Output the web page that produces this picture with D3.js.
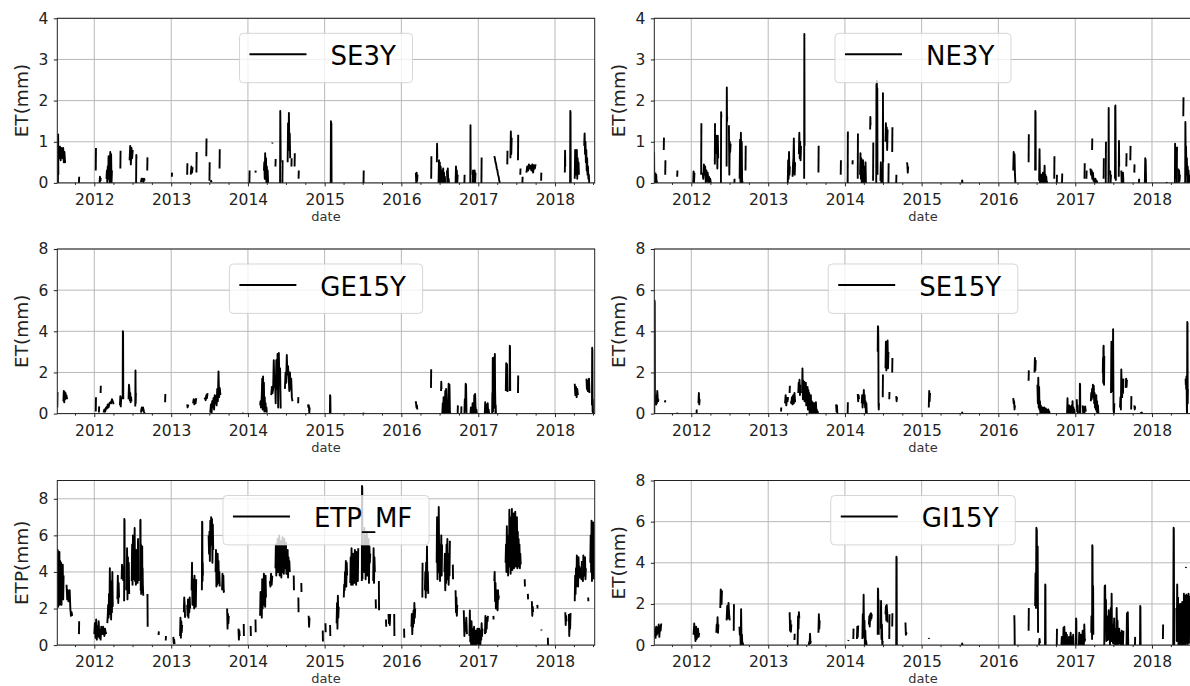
<!DOCTYPE html>
<html><head><meta charset="utf-8">
<script src="https://cdn.jsdelivr.net/npm/d3@7"></script>
<style>body{margin:0;background:#fff} svg{display:block} text{font-family:"DejaVu Sans",sans-serif}</style>
</head><body><svg id="c" width="1190" height="686"></svg>
<script>
// ---------- data: [startDate, stepDays, daily values (mm)] ----------
const SE3Y = [
["2011-07-12",1,[0,1.18,0.2]],["2011-07-16",3,[0.9,0.6,0.88,0.55,0.85,0.7,0.6,0.85,0.5,0.75,0.48]],
["2011-10-20",1,[0,0.15]],["2012-01-08",1,[0.3,0.85]],["2012-01-26",2,[0,0.15,0.05,0.12]],
["2012-02-28",2,[0.1,0.3,0,0.4,0.15,0.65,0.1,0.5,0,0.75,0.2,0.7,0,0.3]],["2012-05-04",1,[0.35,0.78]],
["2012-06-17",3,[0.55,0.9,0.45,0.85,0.6,0.8]],["2012-07-18",1,[0,0.68,0.6]],
["2012-08-10",3,[0.02,0.1,0.05,0.1,0.02,0.1,0.05]],["2012-09-09",1,[0.3,0.62]],
["2013-01-04",1,[0.15,0.25]],["2013-03-18",1,[0.2,0.48]],["2013-04-04",3,[0.2,0.4,0.25,0.38]],
["2013-05-01",1,[0.25,0.75]],["2013-06-17",1,[0.65,1.08]],["2013-07-02",1,[0.05,0.5]],
["2013-07-08",2,[0.02,0.05,0.02]],["2013-08-19",1,[0.35,0.82]],["2014-01-08",1,[0,0.3]],
["2014-02-06",1,[0.25,0.3]],["2014-03-18",2,[0.3,0.5,0.1,0.72,0.2,0.6,0,0.4,0.1,0.3,0]],
["2014-04-27",1,[0.96,0.98]],["2014-05-12",1,[0.4,0.58]],["2014-06-03",1,[0,1.75,1.2,0.5]],
["2014-06-14",1,[0,0.55]],["2014-07-09",2,[0.5,1.45,0.8,1.7,0.9,1.2,0.6]],["2014-07-27",1,[0.4,0.6]],
["2014-08-11",1,[0.4,0.72]],["2014-08-30",1,[0.1,0.3]],["2015-01-30",1,[0,1.5,0.05,1.45,0]],
["2015-07-05",1,[0,0.3]],["2016-03-10",2,[0.25,0,0.25,0.05,0.2]],["2016-05-22",1,[0.1,0.65]],
["2016-06-18",1,[0.5,0.95,0.6]],["2016-06-26",2,[0,0.55,0.1,0.5,0,0.4,0.05,0.3,0,0.2,0.05,0.35,0,0.25,0,0.15,0]],
["2016-08-05",2,[0.3,0,0.35,0.05,0.1,0]],["2016-09-15",2,[0,0.4,0.1,0.3,0,0.2]],["2016-10-27",1,[0,0.2]],
["2016-11-24",1,[0,1.4,0.2]],["2016-12-05",2,[0,0.3,0,0.2,0.05,0.3,0,0.25]],["2017-01-16",1,[0,0.62]],
["2017-03-18",3,[0.65,0.6,0.5,0.45,0.35,0.3,0.2,0.15,0.05,0]],["2017-05-19",1,[0.45,0.78]],
["2017-06-03",2,[0.6,1.25,0.7,1.1]],["2017-07-09",1,[0.55,1.17]],["2017-07-20",1,[0.2,0.35]],
["2017-07-30",1,[0,0.15]],["2017-08-18",4,[0.25,0.4,0.3,0.45,0.35,0.42,0.3,0.45,0.25,0.43,0.35,0.45]],
["2017-10-27",1,[0.05,0.25]],["2018-02-17",1,[0.25,0.78,0.4]],["2018-03-14",1,[0,1.75,1.7,0]],
["2018-04-05",2,[0.1,0.8,0.2,0.75,0.3,0.8,0.1,0.6,0.3,0.5,0.2]],
["2018-05-20",2,[0.9,1.2,0.7,1.0,0.5,0.8,0.3,0.6,0.2,0.4,0.1,0.2,0]]
];
const NE3Y = [
["2011-07-08",1,[0.75,0,0.2]],["2011-07-14",2,[0.25,0,0.2,0,0.05]],["2011-08-23",1,[0.8,1.1]],
["2011-08-30",1,[0.2,0.55]],["2011-10-26",1,[0.15,0.3]],["2012-01-10",2,[0,0.28,0,0.25]],
["2012-02-17",1,[0.2,1.45]],["2012-02-24",3,[0.25,0.1,0.45,0.2,0.4,0,0.3,0.05,0.25,0,0.15,0,0.1,0]],
["2012-04-22",1,[0.45,1.45]],["2012-04-26",2,[0.7,1.15,0.8,1.1,0.35,1.15,0.6]],["2012-05-21",1,[0,1.72,1.6]],
["2012-06-17",1,[0.4,2.32,1.5,1.6]],["2012-06-28",2,[1.4,0.2,1.0,0.75,0.95]],["2012-07-24",1,[0,0.1]],
["2012-08-18",2,[0.1,1.05,0,1.22,0.3,1.0,0,0.05]],["2012-09-15",1,[0.3,0.9]],
["2013-04-04",2,[0,0.55,0.1,0.75,0.2,0.4]],["2013-04-27",2,[0.15,0.45,0.6,1.08,0.4,0.2,0.5]],
["2013-05-27",2,[0.7,1.22,0.6,1.0,0.55,0.9]],["2013-06-21",1,[0.1,3.62,0.9]],["2013-08-28",1,[0.25,0.9]],
["2013-12-12",1,[0.2,0.55]],["2014-01-14",1,[0,1.25]],["2014-02-06",1,[0.45,0.55]],["2014-03-03",1,[0.1,1.2]],
["2014-03-14",2,[0.2,0.72,0.1,0.6,0,0.5,0.2,0.55,0,0.4,0,0.2,0.05,0.5,0]],["2014-05-01",1,[1.3,1.6,1.4]],
["2014-05-15",1,[0.05,0.98]],["2014-05-30",1,[0,2.4,0.8,2.48,1.1,2.3,0.2]],["2014-06-19",2,[0.05,0.5,0,0.3]],
["2014-06-30",1,[0,2.18,0.5]],["2014-07-13",2,[1.0,1.45,1.2,1.35,0.8,1.3]],["2014-07-27",1,[0,0.48]],
["2014-08-14",1,[0.75,1.35]],["2014-09-02",1,[0,0.2]],["2014-10-23",2,[0.5,0.45,0.25,0.4]],
["2015-07-12",1,[0,0.06,0]],["2016-03-12",2,[0.3,0.75,0.5,0.7,0.2,0]],["2016-05-24",1,[0.5,1.18]],
["2016-06-24",1,[0.3,1.75,1.7,0.3]],
["2016-07-13",2,[0.05,0.82,0,0.1,0.05,0.2,0,0.15,0.05,0.25,0,0.1,0.05,0.42,0,0.2,0.05,0.15,0,0.05]],
["2016-09-23",1,[0.1,0.65]],["2016-10-05",1,[0,0.2]],["2016-10-30",1,[0,0.23]],["2017-02-14",1,[0.1,0.48]],
["2017-02-23",1,[0.1,0.3]],["2017-03-14",3,[0.35,0.2,0.3,0.1,0.25,0.05,0.1,0,0.1,0,0.05,0]],
["2017-03-22",1,[0.8,1.08]],["2017-05-16",1,[0.1,0.6]],["2017-05-26",1,[0,1.0]],["2017-06-08",1,[0,1.82,0.2]],
["2017-06-16",2,[0.3,0,0.2]],["2017-07-09",1,[0.1,1.85,1.88,1.0,0.05]],["2017-07-27",1,[0.15,1.02,0.4]],
["2017-08-08",2,[0.3,0,0.2,0.05,0.25,0]],["2017-09-01",1,[0.4,0.72]],["2017-09-20",1,[0.55,0.9]],
["2017-10-09",1,[0.25,0.45]],["2017-10-31",1,[0,0.1]],["2017-11-28",2,[0,0.6,0.55,0]],
["2018-03-12",1,[0,0.02]],["2018-04-20",1,[0,0.95,0.1]],["2018-04-29",1,[0,0.88]],
["2018-05-06",2,[0.35,0,0.3,0.05,0.2]],["2018-05-30",1,[1.62,2.08]],["2018-06-08",1,[0,1.48,0.9]],
["2018-06-12",2,[0.9,0.2,0.6,0,0.4,0.1,0.3,0,0.2]]
];
const GE15Y = [
["2011-07-09",1,[0.3,1.05]],["2011-08-07",2,[0.6,1.1,0.55,1.05,0.7,1.0,0.75,0.9,0.8,0.7]],
["2012-01-08",1,[0.1,0.8]],["2012-01-23",1,[0.05,0.35]],["2012-01-31",1,[1.0,1.35]],
["2012-02-14",4,[0.05,0.2,0.1,0.3,0.25,0.45,0.3,0.5,0.55,0.5,0.7,0.6,0.45]],
["2012-05-02",2,[0.4,0.85,0.35,0.8,0.75]],["2012-05-15",1,[0.7,4.0,3.95,0.7]],
["2012-06-12",2,[0.7,1.4,1.2,0.65,1.0,0.55,0.8,0.6]],["2012-07-14",1,[0.35,2.1,0.5,1.0]],
["2012-08-10",2,[0.05,0.2,0.3,0.25,0.15,0.3,0.2,0.1,0.05,0]],["2012-12-03",1,[0.55,0.95]],
["2013-03-18",2,[0.45,0.3,0.4,0.35]],["2013-04-15",3,[0.5,0.7,0.45,0.65,0.5,0.75]],
["2013-06-08",3,[0.7,0.75,0.65,0.9,0.75,1.0]],
["2013-07-06",3,[0.05,0.45,0,0.6,0.3,0.75,0.2,0.9,0.5,0.85,0.4,1.2,0.6,2.05,0.8,1.25,0.9]],
["2013-12-08",1,[0,0.05]],
["2014-02-28",2,[0.4,0.6,0.3,0.5,0.9,1.7,0.2,1.8,0.4,1.5,0.1,0.8,0.2,0.5,0.1,0.3,0.05]],
["2014-04-22",3,[0.9,1.3,1.0,1.2,2.6,1.3,1.8,0.5,2.6,1.2,2.9,0.3,2.95,1.5,2.2,0.25]],
["2014-06-26",3,[1.2,2.0,1.5,2.85,1.9,2.3,1.7,1.1,2.0,1.2,1.7,0.8,0.6]],["2014-08-28",1,[0.5,0.8]],
["2014-10-14",2,[0.45,0.3,0.4,0.05,0.3]],["2015-01-26",1,[0,0.9,0.85,0]],["2015-07-05",1,[0,0.05]],
["2016-03-09",2,[0.6,0.5,0.3,0.4,0.2]],["2016-05-21",1,[1.25,2.15]],["2016-07-08",1,[1.1,1.55,1.2]],
["2016-07-14",2,[0,0.5,0.1,0.8,0,0.6,0.2,1.1,0,1.2,0.1,0.5,0,0.35,0.6,1.45,0,1.4,0.1,0]],
["2016-09-25",1,[0,0.4]],["2016-10-12",1,[0,0.35]],["2016-10-27",2,[0,0.7,0.2,1.45,1.4,0]],
["2016-11-25",2,[0,0.3,0,0.2,0.05,0.5,0,0.4,0,0.9,0.1,0.95,0.3,0,0.2,0]],
["2017-02-01",2,[0,0.55,0.1,0.45,0,0.4,0.1,0.5,0,0.2,0.05,0]],
["2017-03-08",1,[0,1.0,0.2,2.7,0.1,1.5,0.3,2.6,1.4,2.2,0.5,2.75,0.3,2.9,1.2,0.6,0,0.4,0]],
["2017-05-12",2,[1.1,2.45,1.2,2.4,1.05]],["2017-05-30",1,[1.1,3.3,3.25,1.1]],["2017-07-09",1,[1.0,1.85]],
["2018-04-05",3,[1.45,0.9,1.3,0.8,1.2,0.9]],["2018-05-31",2,[1.7,1.2,1.6,1.1,1.5,1.3,1.7,1.0]],
["2018-06-26",1,[0.4,3.2,3.1,0.1,0.7,0]]
];
const SE15Y = [
["2011-07-09",1,[0,5.5,5.4,0.5]],["2011-07-17",2,[0.4,0.9,0.5,1.1,0.8,0.6,0.7]],["2011-08-29",1,[0.55,0.65]],
["2011-10-26",1,[0,0.05]],["2012-01-26",1,[0,0.2]],["2012-02-04",2,[0.5,1.0,0.45,0.7]],
["2013-03-03",1,[0.1,0.3]],["2013-03-22",3,[0.5,0.9,0.4,0.75,0.6,0.8]],["2013-04-13",1,[1.0,1.35]],
["2013-04-18",3,[0.6,0.5,0.8,0.45,0.9,0.5,1.0,0.55]],["2013-05-24",2,[1.0,1.5,1.2,1.65,0.9,1.4]],
["2013-06-11",2,[1.0,2.2,0.7,1.6,0.9,1.55,0.6,1.3,1.0,1.5,0.4,1.2,0.8,1.3,0.2,1.15,0.5,1.0,0,0.8,0.3,0.9,0,0.6,0.1,0.55,0,0.4,0,0.5,0,0.3,0,0.55,0.05,0.2,0,0.1,0]],
["2013-11-20",2,[0.45,0.1,0.4,0]],["2014-01-14",1,[0,0.55]],["2014-03-03",2,[0.95,0.6,0.9,0.7]],
["2014-03-22",2,[0.5,0.9,0.3,0.8,0.6,1.15,0.5,0.9,0.3,0.6,0,0.5,0]],
["2014-06-06",1,[3.0,4.25,4.2,3.6,0.4,0.2,0.5]],["2014-06-30",1,[0.8,1.9]],
["2014-07-13",2,[2.2,3.5,2.1,3.4,2.3,3.55,2.2,3.0]],["2014-07-31",1,[0.7,1.05]],["2014-08-14",1,[2.0,2.7]],
["2014-09-02",2,[0.85,0.6,0.8]],["2015-02-04",2,[0.3,1.1,0.6,1.0]],["2015-07-12",1,[0,0.06,0]],
["2016-03-12",2,[0.75,0.5,0.6,0.2,0.4]],["2016-05-24",1,[1.6,2.1]],["2016-06-21",2,[2.0,2.7,2.1,2.6]],
["2016-07-05",2,[1.4,0.5,1.75,0.3,1.3,0.2,0.6,0,0.4,0.1,0.3,0,0.3,0.05,0.25,0,0.3,0,0.2,0,0.25,0,0.2,0.05,0.15,0,0.2,0,0.1,0]],
["2016-11-23",2,[0,0.75,0,0.3,0.05,0.4,0,0.2,0,0.35,0.1,0.4,0,0.6,0,0.3,0,0.2,0]],
["2017-01-08",2,[0.7,0.1,0.4,0]],["2017-01-22",1,[0,1.45,1.4,0]],["2017-02-05",3,[0.4,0,0.3,0.05,0.35,0.1]],
["2017-03-16",2,[0.6,1.0,0.7,1.2,0.9,1.4,0.8,1.35,0.5,1.0,0.3,0.8,0.2,0.9,0.1,0.6,0,0.4,0]],
["2017-05-12",1,[2.0,2.7,1.5,3.2,3.3,2.2,1.4,2.8]],["2017-06-20",2,[1.0,3.5,1.1,3.4,1.5,4.1,0.2,0,0.5]],
["2017-08-02",2,[0.3,0.8,0.2,2.15,1.2,0.8,1.5,1.0,1.7]],["2017-08-29",2,[1.25,1.7,1.3,1.65]],
["2017-09-24",1,[0.2,0.85]],["2017-10-09",2,[0.4,0.2,0.35]],["2017-11-05",4,[0.05,0,0.05,0]],
["2018-06-10",1,[1.7,1.4,1.6,1.2,1.8,1.4,0.2,0,4.45,4.4,0.5,1.2]]
];
const ETP_MF = [
["2011-07-09",2,[3.3,5.2,2.1,5.0,4.0,5.1,2.2,4.6,3.5,4.5,2.2,4.2,3.2,4.4,2.5,3.8]],
["2011-08-22",3,[3.3,2.5,3.0,2.4,2.4,3.0,2.0,1.6,1.8,1.6]],["2011-10-20",1,[0.6,1.3]],
["2012-01-01",3,[0.6,1.2,0.4,1.4,0.3,1.0,0.5,1.3,0.4,0.8,0.3,1.0,0.7,0.6,1.0,0.8,0.5,0.9,0.7,0.6]],
["2012-03-03",2,[1.2,1.6,2.2,1.5,2.8,1.7,4.2,2.0,3.5,1.4,2.8,1.8,4.0,2.1]],
["2012-04-20",2,[2.5,3.8,2.3,3.4,2.6]],["2012-05-10",2,[3.6,4.4,3.8,4.3,3.5]],["2012-05-22",1,[2.4,6.9,6.8,3.0]],
["2012-06-03",2,[3.0,5.3,2.5,4.8,3.0,4.5,2.8]],
["2012-06-27",2,[3.5,5.5,3.3,6.0,3.6,5.0,4.2,6.4,3.5,4.8,3.3,5.2,3.6,4.5,3.4,5.8,3.5]],
["2012-08-06",1,[3.5,6.8,6.85,3.0,5.5,2.8,5.2,3.2,4.6,2.9,5.4,3.0,4.2,3.3,3.0,2.7]],
["2012-09-10",1,[2.8,1.0]],["2012-11-02",1,[0.55,0.75]],["2012-12-06",1,[0.25,0.5]],
["2013-01-11",2,[0.45,0.1,0.3,0.05]],["2013-02-12",2,[0.5,1.5,0.4,1.3,0.7,1.1]],["2013-03-02",2,[1.8,2.6,2.2,1.5]],
["2013-03-18",2,[2.2,1.6,2.5,1.5,2.3,1.8,2.6,2.0]],["2013-04-08",2,[3.0,4.5,2.2,3.6,2.8,3.2,2.0,3.8,2.5,3.5,2.1,3.6]],
["2013-05-27",1,[3.0,6.75,6.7,3.5,4.5,3.8]],["2013-06-28",2,[6.0,5.0,6.2,4.6,6.8,5.5,7.0,5.8,6.9,4.5,6.6,5.2]],
["2013-07-31",2,[4.0,5.2,3.2,4.4,3.3,5.0,3.5,4.6,3.4,4.0,3.2]],["2013-08-31",2,[3.0,3.9,3.1,3.8,2.9,3.0]],
["2013-09-24",2,[2.0,0.9,1.7,1.2,1.6]],["2013-11-17",2,[0.9,0.3,0.8,0.5]],["2013-12-12",1,[1.15,0.5]],
["2014-01-14",1,[1.05,0.5]],["2014-02-06",1,[1.4,0.7]],
["2014-02-28",2,[1.6,2.9,1.8,2.6,1.5,3.6,2.0,3.1,2.2,3.9,2.5,3.4,2.1,3.8,2.6]],["2014-04-15",3,[3.5,3.2,3.9,3.3,3.8]],
["2014-05-12",2,[4.2,5.5,3.8,5.0,4.5,5.8,4.0,5.3,4.6,6.0,3.8,5.0,4.4,5.7,3.7,5.2,4.5,5.9,4.0,5.4,3.9,5.8,4.2,5.1,4.5,5.6,3.9,5.0,4.5,5.2,3.7,4.8,4.3,4.6,4.0]],
["2014-08-07",1,[3.8,3.0]],["2014-08-29",1,[2.6,1.8]],["2014-09-12",1,[3.4,2.9]],["2014-10-17",2,[1.6,1.0,1.5]],
["2014-12-23",1,[0.8,0.2]],["2015-01-05",1,[1.2,0.7]],["2015-01-27",1,[1.1,0.5]],
["2015-02-27",2,[1.2,2.3,0.9,2.7,1.5,2.1]],["2015-04-02",2,[2.6,3.3,3.0,4.0,3.5,4.6,3.2,4.5,3.8]],
["2015-05-03",2,[3.4,4.8,3.3,5.3,3.6,4.2,3.3,5.0,3.5,4.6,3.4,5.2,3.8,4.5,3.3,5.1,3.6,4.9,3.5,5.3]],
["2015-06-27",1,[3.5,8.7,8.6,3.6]],
["2015-07-03",2,[4.2,5.5,4.0,6.4,5.2,6.0,3.6,5.8,4.2,6.2,3.8,5.0,4.1,5.8,3.4,5.4,4.5,5.0]],
["2015-08-20",2,[3.5,5.3,3.4,4.8,4.0]],["2015-09-01",1,[2.5,2.0]],["2015-09-16",1,[3.5,1.9]],
["2015-10-20",1,[1.4,1.0]],["2015-11-01",2,[1.7,1.2,1.6,1.1,1.7]],["2015-11-28",1,[1.7,0.5]],
["2016-01-14",1,[0.9,0.4]],["2016-02-18",2,[1.0,1.7,0.6,1.3,1.0,1.9,1.2,2.3,1.5,2.0]],["2016-04-10",1,[2.6,4.5]],
["2016-04-22",2,[3.0,4.0,2.6,4.5,3.4,5.4,3.0,4.0,2.8]],
["2016-06-17",2,[4.5,7.0,3.6,6.2,4.0,7.55,4.8,5.5,3.5,5.0,4.2,6.0,3.8,5.5]],
["2016-07-24",2,[4.0,5.0,3.0,4.8,3.4,5.5,3.6,5.8,4.0,5.0,3.3,4.4,3.8,5.7]],["2016-09-02",1,[4.4,3.6]],
["2016-09-15",2,[3.0,1.8,2.6,1.6,2.2]],["2016-10-24",3,[1.9,0.5,1.2,0.8,1.5,0.6]],
["2016-11-20",2,[0.5,1.9,0.2,1.0,0,1.3,0.4,0.9,0,0.7,0.3,1.0,0,0.8,0.2,0.6,0,0.8,0.3,0.9,0.1,0.5,0,0.9,0.4,0.7,0,0.8,0.3,1.2,0.5,0.9]],
["2017-02-02",2,[0.6,1.6,0.7,1.4,0.9,1.5,1.3,1.6]],["2017-03-14",1,[1.6,1.4]],
["2017-03-18",2,[3.5,4.0,2.4,3.4,2.0,3.0,2.2,2.8,1.9,3.0,2.5,2.7]],
["2017-05-11",2,[4.5,5.5,4.0,6.5,4.2,6.0,3.8,5.0,4.5,7.4,4.3,7.0,3.9,6.5,4.8,7.45,4.1,6.8,4.6,7.2,4.2,6.0,4.5,7.3,4.3,6.5,4.4,7.0,4.2,6.2,4.5,5.8,4.3,5.5,4.2,5.0,4.4]],
["2017-08-10",1,[3.6,3.2]],["2017-08-25",1,[2.8,2.5]],["2017-09-13",2,[2.4,1.6,2.1,1.8]],
["2017-10-09",1,[2.2,2.0]],["2017-10-28",1,[0.85,0.8]],["2017-11-28",1,[0.4,0.05,0]],
["2018-02-19",2,[1.8,1.1,1.6,1.3]],["2018-03-08",2,[1.7,0.5,1.5,0.9,1.75]],
["2018-04-05",2,[2.4,3.8,2.8,4.2,3.2,4.9,3.6,4.5,3.2,4.8,3.9,4.3,3.7,4.2,3.8,4.0,3.6,4.6]],
["2018-05-12",2,[4.0,3.5,4.9,3.8,4.6,3.9,4.8,3.6,4.2]],["2018-06-08",1,[2.6,2.4]],
["2018-06-18",2,[4.5,6.0,4.0,6.8,3.5,6.5,4.8,6.7,3.6]]
];
const GI15Y = [
["2011-07-09",3,[0.4,0.8,0.35,0.9,0.5,0.85,0.6,1.0,0.4,0.9,0.7,1.05]],
["2012-01-12",3,[0.5,1.05,0.6,0.2,0.9,0.3,0.5,0.8,0.4,0.6]],["2012-04-29",2,[0.6,1.0,0.7,1.35,0.6,1.0]],
["2012-05-18",2,[1.8,2.7,2.6,2.0,2.65]],["2012-06-17",3,[1.2,1.9,1.3,2.05,1.5,1.2]],["2012-07-21",1,[0.7,1.95,1.9]],
["2012-08-17",2,[0.9,0.5,0.8,0,1.75,0.1,0.5,0,0.1,0]],["2013-04-13",2,[1.6,0.7,1.2,0.65,1.0]],
["2013-05-06",1,[0.25,0.55]],["2013-05-21",2,[0,1.4,0.8,1.6,1.3]],["2013-07-13",2,[0,0.15,0.1,0.55,0.1,0.2]],
["2013-08-28",2,[0.6,1.5,0.8,1.2]],["2014-01-17",1,[0.2,0.25]],["2014-02-10",1,[0.3,0.8]],
["2014-02-27",2,[0.3,0.9,0.4,0.95]],["2014-03-25",2,[0.3,1.5,0.6,2.45,0.4,1.2,0,0.7,0.1,0.2,0]],
["2014-04-25",2,[1.0,1.4,0.9,1.5,1.2,1.55,1.3,1.5]],["2014-06-06",1,[0.5,2.75,2.7,1.5,2.2,0.5]],
["2014-06-20",2,[0.8,2.15,0.3,1.0,0,0.2]],["2014-07-13",2,[1.5,1.9,1.2,1.95,1.6,1.1]],
["2014-07-31",1,[0.3,1.5]],["2014-08-14",1,[0.9,1.55]],["2014-09-02",1,[0,4.3,4.25,0]],
["2014-10-16",2,[1.1,0.5,0.6,0.55]],["2015-02-04",1,[0.3,0.35]],["2015-07-12",1,[0,0.08,0]],
["2016-03-17",1,[1.45,1.0,0]],["2016-05-24",1,[0.7,1.8]],["2016-06-24",2,[1.9,3.5,1.8,5.7,5.6,2.0,4.8,0.6]],
["2016-07-13",2,[0,0.3,0.1]],["2016-08-10",1,[0,2.95,2.9,0]],["2016-10-05",1,[0,0.8]],
["2016-10-27",2,[0,0.4,0,0.2,0,0.85,0,0.9,0.1,0.3,0,0.6,0,0.5,0.1,0,0.3,0,0.4,0,0.2,0.1,0.6,0,0.4,0,0.2,0,0.5,0]],
["2017-01-04",1,[0,1.3,1.2,0]],["2017-01-18",2,[0,0.6,0,0.4,0.1,0.5,0,0.3,0,0.7,0.1,0.5,0,1.0,0.2,0.3]],
["2017-03-18",1,[0.6,1.4,0.9,1.1,0.3,4.85,4.8,2.0,2.9,2.8,0.5]],
["2017-05-19",2,[0,2.85,2.9,1.5,2.2,0.2,1.3]],
["2017-06-03",2,[0.2,1.4,0.5,1.7,0.3,1.2,0,0.9,1.8,0.2,2.5,0.5,1.0,0.1,0.9,0.3,1.3,0,0.7,0.4,0.8,0,1.8,0.3,1.2,0,0.7,0.5,0.8,0.1,0.6,0,0.5,0.1,0.7,0,0.6,0,0.7]],
["2017-09-02",2,[0,1.55,0.2,1.6,0]],["2017-10-12",1,[0,0.4]],["2017-11-05",1,[0,1.9,1.85,0]],
["2018-02-22",1,[0.3,1.0]],["2018-04-12",1,[0,3.2,5.7,5.6,1.8,0]],
["2018-04-27",2,[1.8,0.2,2.95,0.5,2.3,0,2.0,0.1,1.9,0,2.0,0.3,1.9,0,2.1,0,1.6,0,2.5,0.2,2.4,0,2.3,0.1,2.5]],
["2018-06-11",1,[3.75,3.8]],["2018-06-18",2,[0,2.4,0.3,2.5,0.1,2.4]]
];
const years = [2012,2013,2014,2015,2016,2017,2018];
const yTicks4 = [0,1,2,3,4];
const yTicks8 = [0,2,4,6,8];

const panels = [
 {name:"SE3Y",   data:SE3Y,   ylab:"ET(mm)",  ymax:4, ticks:yTicks4, col:0, row:0},
 {name:"NE3Y",   data:NE3Y,   ylab:"ET(mm)",  ymax:4, ticks:yTicks4, col:1, row:0},
 {name:"GE15Y",  data:GE15Y,  ylab:"ET(mm)",  ymax:8, ticks:yTicks8, col:0, row:1},
 {name:"SE15Y",  data:SE15Y,  ylab:"ET(mm)",  ymax:8, ticks:yTicks8, col:1, row:1},
 {name:"ETP_MF", data:ETP_MF, ylab:"ETP(mm)", ymax:9, ticks:yTicks8, col:0, row:2},
 {name:"GI15Y",  data:GI15Y,  ylab:"ET(mm)",  ymax:8, ticks:yTicks8, col:1, row:2}
];

// ---------- layout ----------
const svg = d3.select("#c");
svg.append("rect").attr("width",1190).attr("height",686).attr("fill","#fff");
const W = 537.4, H = 164.6;
const colX = [57.3, 654.3], rowY = [18.3, 249, 480.5];
const parse = d3.timeParse("%Y-%m-%d");
const xDomain = [new Date(2011,6,9), new Date(2018,6,9)];
const quarters = d3.timeMonth.every(3).range(xDomain[0], xDomain[1]).filter(d => d.getMonth() !== 0);
const yearDates = years.map(y => new Date(y,0,1));

panels.forEach((p, i) => {
  const x0 = colX[p.col], y0 = rowY[p.row];
  const g = svg.append("g").attr("transform", `translate(${x0},${y0})`);
  const x = d3.scaleTime().domain(xDomain).range([0, W]);
  const y = d3.scaleLinear().domain([0, p.ymax]).range([H, 0]);

  // grid
  const grid = g.append("g").attr("stroke","#b8b8b8").attr("stroke-width",1);
  grid.selectAll(".gx").data(yearDates).join("line")
    .attr("x1", d => x(d)).attr("x2", d => x(d)).attr("y1", 0).attr("y2", H);
  grid.selectAll(".gy").data(p.ticks).join("line")
    .attr("x1", 0).attr("x2", W).attr("y1", d => y(d)).attr("y2", d => y(d));

  // data
  const cid = "clip" + i;
  g.append("clipPath").attr("id", cid).append("rect").attr("width", W).attr("height", H);
  const line = d3.line().x(d => x(d.t)).y(d => y(d.v));
  const segs = p.data.map(([ds, step, vals]) => {
    const s = parse(ds);
    return vals.map((v, k) => ({t: d3.timeDay.offset(s, k * step), v}));
  });
  g.append("g").attr("clip-path", `url(#${cid})`).selectAll("path").data(segs).join("path")
    .attr("d", line).attr("fill","none").attr("stroke","#000").attr("stroke-width",1.9)
    .attr("stroke-linejoin","round");

  // spines
  g.append("rect").attr("width", W).attr("height", H).attr("fill","none")
    .attr("stroke","#222").attr("stroke-width",1);

  // axes
  const ax = g.append("g").attr("transform", `translate(0,${H})`)
    .call(d3.axisBottom(x).tickValues(yearDates).tickFormat(d3.timeFormat("%Y")).tickSize(3.5).tickPadding(7.5));
  const axm = g.append("g").attr("transform", `translate(0,${H})`)
    .call(d3.axisBottom(x).tickValues(quarters).tickFormat("").tickSize(2));
  const ay = g.append("g").call(d3.axisLeft(y).tickValues(p.ticks).tickFormat(d3.format("d")).tickSize(3.5).tickPadding(5.5));
  [ax, axm, ay].forEach(a => {
    a.select(".domain").remove();
    a.selectAll("line").attr("stroke","#222");
    a.selectAll("text").attr("fill","#222").style("font-size","15.5px").style("font-family","DejaVu Sans");
  });

  // labels
  g.append("text").attr("x", W/2).attr("y", H + 38).attr("text-anchor","middle")
    .attr("fill","#333").style("font-size","13px").text("date");
  g.append("text").attr("transform", `translate(${-35.8},${H/2}) rotate(-90)`)
    .attr("text-anchor","middle").attr("dy","0.35em").attr("fill","#222")
    .style("font-size","18.5px").text(p.ylab);

  // legend (upper center)
  const lg = g.append("g");
  const box = lg.append("rect");
  const t = lg.append("text").style("font-size","26px").attr("fill","#000").text(p.name);
  const tw = t.node().getComputedTextLength();
  const bw = 10 + 57 + 24 + tw + 16.7, bh = 49.4;
  const bx = W/2 - bw/2, by = 15;
  box.attr("x", bx).attr("y", by).attr("width", bw).attr("height", bh).attr("rx", 4)
    .attr("fill","rgba(255,255,255,0.8)").attr("stroke","rgba(204,204,204,0.8)").attr("stroke-width",1);
  lg.append("line").attr("x1", bx + 10).attr("x2", bx + 67).attr("y1", by + 21).attr("y2", by + 21)
    .attr("stroke","#000").attr("stroke-width",2);
  t.attr("x", bx + 91).attr("y", by + 31.7);
});
</script>
</body></html>
